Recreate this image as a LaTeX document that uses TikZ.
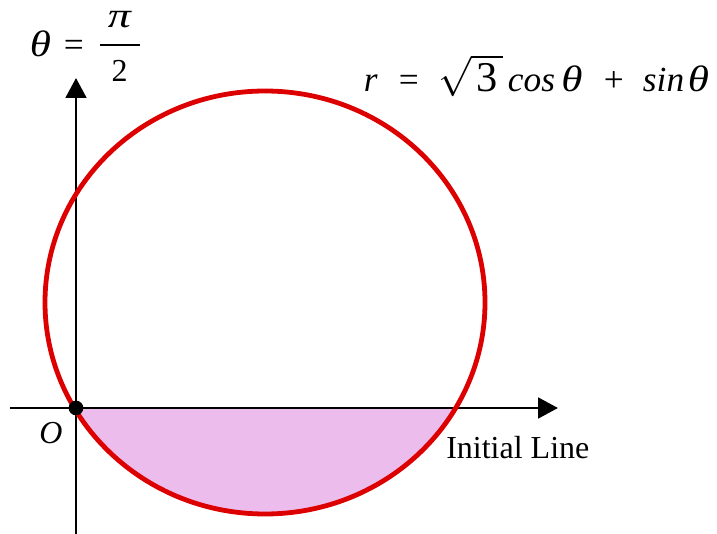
\documentclass[tikz,border=0pt]{standalone}
\usepackage{amsmath}
\usepackage{graphicx}
\usepackage{fontspec}
\setmainfont{Liberation Serif}
\usetikzlibrary{arrows.meta}
\definecolor{curvered}{RGB}{221,0,0}
\definecolor{regionpink}{RGB}{236,188,236}
\newcommand\putat[2]{\makebox[0pt][l]{\hspace{#1}#2}}
\newcommand\wth{\scalebox{1.22}[1.04]{\textit{θ}}}
\newcommand\wpi{\scalebox{1.3}[1]{\textit{π}}}
\begin{document}
\begin{tikzpicture}[x=0.75pt,y=-0.75pt,
  axis/.style={line width=2.2pt,-{Triangle[length=15pt,width=15.5pt]}},
  curve/.style={draw=curvered,line width=3.6pt},
  lbl/.style={font=\fontsize{24}{28}\selectfont,inner sep=0pt},
  biglbl/.style={font=\fontsize{26.5}{30}\selectfont,inner sep=0pt}]
\useasboundingbox (0,0) rectangle (717,534);
% shaded region
\begin{scope}
\clip (76,408) rectangle (717,534);
\fill[regionpink] (265,302.5) ellipse [x radius=220, y radius=211.5];
\end{scope}
% axes
\coordinate (xl) at (10,408);
\coordinate (xr) at (558,408);
\coordinate (yb) at (76,534);
\coordinate (yt) at (76,78);
\draw[axis] (xl) -- (xr);
\draw[axis] (yb) -- (yt);
% curve
\draw[curve] (265,302.5) ellipse [x radius=220, y radius=211.5];
% origin
\fill (76,408) circle [radius=5.5pt];
\node[lbl,anchor=base] (O) at (51,443) {\textit{O}};
\node[lbl,anchor=base west] (init) at (446,458) {Initial Line};
% equation of the curve
\node[biglbl,anchor=base west] (eq) at (363,92)
  {\putat{0pt}{\textit{r}}\putat{26.25pt}{=}\putat{108pt}{\textit{cos}}\putat{148pt}{\wth}\putat{180pt}{+}\putat{209.25pt}{\textit{sin}}\putat{243pt}{\wth}\hspace{262pt}};
\node[biglbl,anchor=base west] (surd) at (438,92)
  {\scalebox{1.2}{$\sqrt{\mbox{\hspace{3pt}3\hspace{3.5pt}}}$}};
% theta = pi/2
\node[biglbl,anchor=base west] (th) at (29,57) {\putat{0pt}{\wth}\putat{25.5pt}{=}\hspace{41pt}};
\node[biglbl,anchor=base] (pi) at (120,28) {\wpi};
\node[lbl,anchor=base] (two) at (119.5,82) {2};
\coordinate (barl) at (100,45);
\coordinate (barr) at (140,45);
\draw[line width=1.3pt] (barl) -- (barr);
\end{tikzpicture}
\end{document}
